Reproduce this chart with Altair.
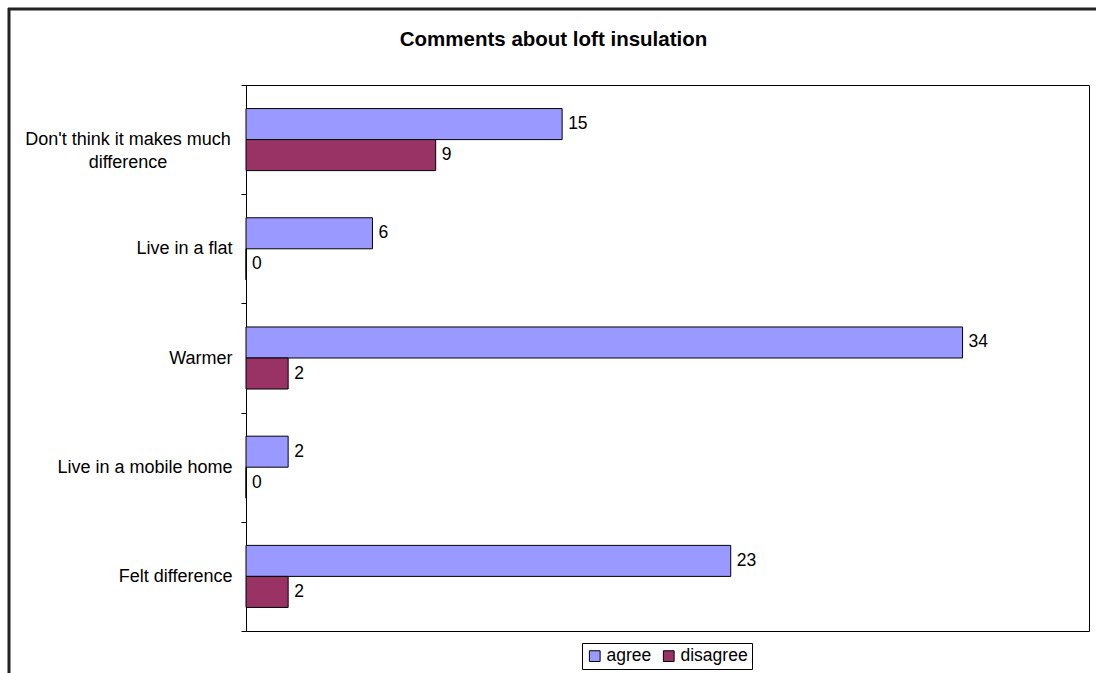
import altair as alt
import pandas as pd

categories = ["Don't think it makes much difference", "Live in a flat", "Warmer",
              "Live in a mobile home", "Felt difference"]
series = ["agree", "disagree"]
agree = [15, 6, 34, 2, 23]
disagree = [9, 0, 2, 0, 2]
colors = ["#9999FF", "#993366"]
long_label = "Don't think it makes much|difference"

rows = []
for c, a, d in zip(categories, agree, disagree):
    rows.append({"category": c, "series": "agree", "value": a})
    rows.append({"category": c, "series": "disagree", "value": d})
df = pd.DataFrame(rows)

FONT = "Liberation Sans"
W, H = 843, 546

y_axis = alt.Axis(
    title=None, tickBand="extent", tickSize=5, tickColor="black", domainColor="black",
    labelFont=FONT, labelFontSize=18, labelColor="black",
    labelExpr="length(datum.label) > 25 ? '' : datum.label", labelLimit=0,
    labelBaseline="middle", labelAlign="right", labelPadding=9,
    grid=False,
)
y = alt.Y("category:N", sort=categories, scale=alt.Scale(paddingInner=0, paddingOuter=0), axis=y_axis)
yoff = alt.YOffset("series:N", sort=series, scale=alt.Scale(paddingInner=0, paddingOuter=0.76))
x = alt.X("value:Q", scale=alt.Scale(domain=[0, 40], nice=False, zero=True), axis=None)

legend = alt.Legend(
    title=None, orient="none", legendX=336, legendY=558, direction="horizontal",
    strokeColor="black", fillColor="white", padding=4,
    symbolType="square", symbolSize=115, symbolStrokeColor="black", symbolStrokeWidth=1,
    symbolOpacity=1,
    labelFont=FONT, labelFontSize=17.5, labelColor="black", columnPadding=8, labelOffset=3,
)
color = alt.Color("series:N", sort=series, scale=alt.Scale(domain=series, range=colors), legend=legend)

bars = alt.Chart(df).mark_bar(stroke="black", strokeWidth=1, opacity=1).encode(
    x=x, y=y, yOffset=yoff, color=color
)
labels = alt.Chart(df).mark_text(
    align="left", baseline="middle", dx=6, font=FONT, fontSize=17.5, color="black"
).encode(x=x, y=y, yOffset=yoff, text="value:Q")

# two-line category label, each line centred (as in the reference)
long_df = pd.DataFrame({"category": [categories[0]], "text": [long_label]})
long_text = alt.Chart(long_df).mark_text(
    align="center", baseline="middle", font=FONT, fontSize=18, color="black",
    lineBreak="|", lineHeight=23
).encode(x=alt.value(-118), y=alt.Y("category:N", sort=categories), text="text:N")

frame_df = pd.DataFrame({"k": [0]})
frame_left = alt.Chart(frame_df).mark_rule(color="#222222", strokeWidth=3).encode(
    x=alt.value(-237), y=alt.value(-77), y2=alt.value(700)
)
frame_top = alt.Chart(frame_df).mark_rule(color="#222222", strokeWidth=3).encode(
    x=alt.value(-238), x2=alt.value(900), y=alt.value(-76)
)

chart = alt.layer(bars, labels, long_text, frame_left, frame_top).properties(
    width=W, height=H,
    title=alt.Title("Comments about loft insulation", font=FONT, fontSize=20.5, fontWeight="bold",
                    color="black", anchor="middle", dx=-114, offset=-44),
    autosize=alt.AutoSizeParams(type="none"),
    padding={"left": 246, "top": 85, "right": 7, "bottom": 42},
    background="white",
).configure_view(stroke="black", strokeWidth=1)

chart.save("out.html", embed_options={"renderer": "svg", "actions": False})
